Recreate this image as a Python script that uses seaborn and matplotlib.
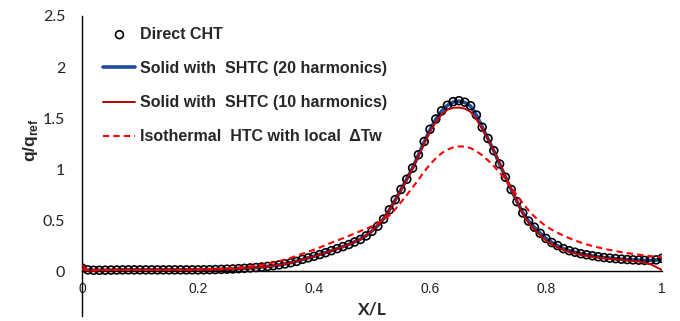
import numpy as np
import pandas as pd
import matplotlib
matplotlib.use("Agg")
import matplotlib.pyplot as plt
import seaborn as sns

# x positions (X/L) : 101 samples from 0 to 1
x_over_L = np.linspace(0.0, 1.0, 101)

direct_cht = [
    0.030, 0.012, 0.008, 0.008, 0.009, 0.010, 0.011, 0.012, 0.012, 0.012,
    0.012, 0.012, 0.012, 0.012, 0.012, 0.012, 0.012, 0.012, 0.012, 0.012,
    0.012, 0.013, 0.014, 0.015, 0.017, 0.019, 0.021, 0.024, 0.027, 0.031,
    0.035, 0.040, 0.046, 0.053, 0.061, 0.070, 0.082, 0.095, 0.115, 0.130,
    0.145, 0.162, 0.180, 0.200, 0.220, 0.240, 0.260, 0.285, 0.310, 0.345,
    0.390, 0.440, 0.510, 0.600, 0.700, 0.800, 0.900, 1.010, 1.140, 1.270,
    1.390, 1.490, 1.570, 1.625, 1.660, 1.670, 1.655, 1.620, 1.530, 1.410,
    1.300, 1.180, 1.050, 0.920, 0.800, 0.680, 0.570, 0.490, 0.430, 0.370,
    0.320, 0.280, 0.250, 0.220, 0.200, 0.185, 0.170, 0.160, 0.150, 0.140,
    0.133, 0.127, 0.122, 0.117, 0.113, 0.110, 0.107, 0.105, 0.105, 0.110,
    0.125,
]

shtc_20 = [
    0.020, 0.010, 0.008, 0.008, 0.009, 0.010, 0.011, 0.012, 0.012, 0.012,
    0.012, 0.012, 0.012, 0.012, 0.012, 0.012, 0.012, 0.012, 0.012, 0.012,
    0.012, 0.013, 0.014, 0.015, 0.017, 0.019, 0.021, 0.024, 0.027, 0.031,
    0.035, 0.040, 0.046, 0.053, 0.061, 0.071, 0.083, 0.097, 0.114, 0.130,
    0.146, 0.163, 0.181, 0.200, 0.220, 0.240, 0.262, 0.287, 0.313, 0.348,
    0.392, 0.445, 0.512, 0.598, 0.696, 0.798, 0.902, 1.012, 1.138, 1.265,
    1.385, 1.487, 1.568, 1.624, 1.656, 1.665, 1.652, 1.616, 1.530, 1.412,
    1.298, 1.178, 1.050, 0.922, 0.800, 0.682, 0.572, 0.490, 0.428, 0.370,
    0.320, 0.280, 0.248, 0.220, 0.200, 0.184, 0.170, 0.159, 0.149, 0.140,
    0.133, 0.127, 0.121, 0.116, 0.112, 0.109, 0.106, 0.104, 0.104, 0.108,
    0.120,
]

shtc_10 = [
    0.060, 0.005, 0.005, 0.008, 0.010, 0.012, 0.012, 0.011, 0.011, 0.012,
    0.012, 0.012, 0.011, 0.011, 0.012, 0.012, 0.012, 0.011, 0.011, 0.012,
    0.012, 0.013, 0.014, 0.015, 0.017, 0.019, 0.021, 0.024, 0.027, 0.030,
    0.034, 0.039, 0.045, 0.052, 0.060, 0.070, 0.082, 0.096, 0.113, 0.129,
    0.145, 0.162, 0.180, 0.199, 0.219, 0.239, 0.261, 0.286, 0.313, 0.350,
    0.395, 0.450, 0.518, 0.603, 0.698, 0.797, 0.897, 1.005, 1.128, 1.250,
    1.365, 1.460, 1.535, 1.582, 1.600, 1.603, 1.592, 1.560, 1.490, 1.390,
    1.290, 1.180, 1.060, 0.930, 0.805, 0.678, 0.560, 0.470, 0.405, 0.350,
    0.300, 0.262, 0.232, 0.206, 0.187, 0.172, 0.160, 0.150, 0.141, 0.133,
    0.126, 0.120, 0.115, 0.110, 0.105, 0.100, 0.093, 0.082, 0.068, 0.040,
    0.010,
]

isothermal = [
    0.020, 0.008, 0.008, 0.009, 0.010, 0.011, 0.012, 0.012, 0.012, 0.012,
    0.012, 0.012, 0.012, 0.012, 0.013, 0.013, 0.014, 0.014, 0.015, 0.016,
    0.017, 0.018, 0.020, 0.022, 0.024, 0.027, 0.031, 0.035, 0.040, 0.046,
    0.053, 0.062, 0.073, 0.085, 0.098, 0.113, 0.130, 0.150, 0.170, 0.190,
    0.210, 0.232, 0.255, 0.278, 0.300, 0.322, 0.345, 0.368, 0.392, 0.415,
    0.440, 0.470, 0.500, 0.545, 0.605, 0.675, 0.745, 0.820, 0.895, 0.975,
    1.045, 1.105, 1.155, 1.190, 1.212, 1.222, 1.220, 1.205, 1.175, 1.135,
    1.085, 1.030, 0.965, 0.895, 0.820, 0.740, 0.665, 0.595, 0.535, 0.485,
    0.440, 0.405, 0.375, 0.348, 0.323, 0.300, 0.280, 0.262, 0.246, 0.232,
    0.219, 0.207, 0.196, 0.186, 0.177, 0.169, 0.161, 0.154, 0.147, 0.141,
    0.135,
]

labels = ["Direct CHT",
          "Solid with  SHTC (20 harmonics)",
          "Solid with  SHTC (10 harmonics)",
          "Isothermal  HTC with local  ΔTw"]
x_ticks = [0, 0.2, 0.4, 0.6, 0.8, 1]
x_ticklabels = ["0", "0.2", "0.4", "0.6", "0.8", "1"]
y_ticks = [0, 0.5, 1, 1.5, 2, 2.5]
y_ticklabels = ["0", "0.5", "1", "1.5", "2", "2.5"]

df = pd.DataFrame({"x": x_over_L, "direct": direct_cht, "h20": shtc_20,
                   "h10": shtc_10, "iso": isothermal})

sns.set_style("white")
plt.rcParams["font.family"] = ["Liberation Sans", "DejaVu Sans"]

fig = plt.figure(figsize=(6.8, 3.21), dpi=100)
ax = fig.add_axes([0.1206, 0.0156, 0.8529, 0.9346])

sns.scatterplot(data=df, x="x", y="direct", ax=ax, marker="o", s=32,
                facecolor="none", edgecolor="black", linewidth=1.2,
                label=labels[0], zorder=3)
sns.lineplot(data=df, x="x", y="h20", ax=ax, color="#1F4E9E", linewidth=2.6,
             label=labels[1], sort=False, zorder=2)
sns.lineplot(data=df, x="x", y="h10", ax=ax, color="#C00000", linewidth=1.4,
             label=labels[2], sort=False, zorder=4)
sns.lineplot(data=df, x="x", y="iso", ax=ax, color="#FF0000", linewidth=1.5,
             linestyle=(0, (3, 2)), label=labels[3], sort=False, zorder=4)

ax.set_xlim(0, 1)
ax.set_ylim(-0.44, 2.5)
ax.set_xticks(x_ticks)
ax.set_xticklabels(x_ticklabels, fontfamily="Lato", fontsize=11.5)
ax.set_yticks(y_ticks)
ax.set_yticklabels(y_ticklabels, fontfamily="Lato", fontsize=11.5)
ax.tick_params(axis="x", length=0, pad=8, colors="#222222")
ax.tick_params(axis="y", length=0, pad=12, colors="#222222")

for s in ["top", "right"]:
    ax.spines[s].set_visible(False)
ax.spines["bottom"].set_position(("data", 0))
ax.spines["bottom"].set_color("black")
ax.spines["bottom"].set_linewidth(1.0)
ax.spines["left"].set_color("black")
ax.spines["left"].set_linewidth(1.0)

ax.set_xlabel("X/L", fontfamily="Lato", fontweight="bold", fontsize=12.5)
ax.xaxis.label.set_va("center")
ax.xaxis.set_label_coords(0.5, 0.02)
ax.set_ylabel("q/q$_{\\mathregular{ref}}$", fontweight="bold", fontsize=12.5)
ax.yaxis.set_label_coords(-0.072, 0.585)

leg = ax.legend(loc="upper left", bbox_to_anchor=(0.026, 0.985), frameon=False,
                prop={"weight": "bold", "size": 11.5}, handlelength=2.0,
                handletextpad=0.3, labelspacing=1.2, borderaxespad=0,
                scatterpoints=1)

fig.savefig("out.png", dpi=100)
